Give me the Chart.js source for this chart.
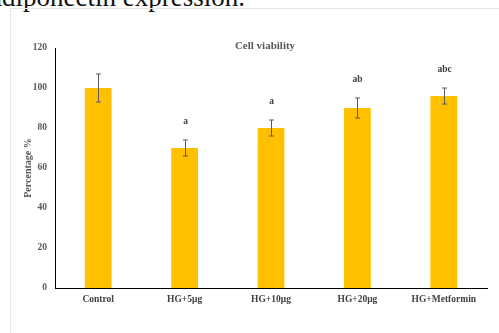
<!DOCTYPE html>
<html>
<head>
<meta charset="utf-8">
<script src="https://cdn.jsdelivr.net/npm/chart.js@4/dist/chart.umd.min.js"></script>
<style>
  html, body { margin: 0; padding: 0; background: #fff; overflow: hidden; }
  #wrap { position: relative; width: 499px; height: 333px; overflow: hidden; }
  #frame {
    position: absolute; left: 10px; top: 8px; width: 700px; height: 500px;
    border-left: 1px solid #e6e6e6; border-top: 1px solid #e6e6e6;
  }
  #caption {
    position: absolute; left: -10px; top: -15.6px; white-space: nowrap;
    font: 27px/27px "Liberation Serif", "Times New Roman", serif; color: #111;
  }
  canvas { position: absolute; left: 0; top: 0; }
</style>
</head>
<body>
<div id="wrap">
  <div id="caption">adiponectin expression.</div>
  <div id="frame"></div>
  <canvas id="c" width="499" height="333"></canvas>
</div>
<script>
// Cell viability (%) per treatment group, mean ± SD
const categories = ["Control", "HG+5μg", "HG+10μg", "HG+20μg", "HG+Metformin"];
const viability = [100, 70, 80, 90, 96];
const viabilitySD = [7, 4, 4, 5, 4];
const significance = ["", "a", "a", "ab", "abc"];
const yTicks = [0, 20, 40, 60, 80, 100, 120];

const serif = '"Liberation Serif", "Times New Roman", serif';

// Error bars with caps, plus significance letters above each bar
const errorBarPlugin = {
  id: 'errorBars',
  afterDatasetsDraw(chart) {
    const ctx = chart.ctx;
    const xs = chart.scales.x, ys = chart.scales.y;
    ctx.save();
    ctx.strokeStyle = '#5a5a5a';
    ctx.lineWidth = 1;
    categories.forEach((c, i) => {
      const x = Math.round(xs.getPixelForValue(i)) + 0.5;
      const yTop = ys.getPixelForValue(viability[i] + viabilitySD[i]);
      const yBot = ys.getPixelForValue(viability[i] - viabilitySD[i]);
      ctx.beginPath();
      ctx.moveTo(x, yTop); ctx.lineTo(x, yBot);
      ctx.moveTo(x - 2.5, yTop); ctx.lineTo(x + 2.5, yTop);
      ctx.moveTo(x - 2.5, yBot); ctx.lineTo(x + 2.5, yBot);
      ctx.stroke();
      if (significance[i]) {
        ctx.fillStyle = '#404040';
        ctx.font = 'bold 9.5px ' + serif;
        ctx.textAlign = 'center';
        ctx.textBaseline = 'middle';
        ctx.fillText(significance[i], x, yTop - 18.5);
      }
    });
    // chart heading
    ctx.fillStyle = '#595959';
    ctx.font = 'bold 11px ' + serif;
    ctx.textAlign = 'center';
    ctx.textBaseline = 'middle';
    ctx.fillText('Cell viability', 265, 46);
    ctx.restore();
  }
};

new Chart(document.getElementById('c'), {
  type: 'bar',
  data: {
    labels: categories,
    datasets: [{
      data: viability,
      backgroundColor: '#FFC000',
      borderWidth: 0,
      categoryPercentage: 1,
      barPercentage: 0.31
    }]
  },
  options: {
    responsive: false,
    animation: false,
    devicePixelRatio: 1,
    layout: { padding: { top: 48, right: 12, left: 0, bottom: 0 } },
    plugins: { legend: { display: false }, tooltip: { enabled: false }, title: { display: false } },
    scales: {
      x: {
        grid: { display: false, drawTicks: false },
        border: { display: true, color: '#000', width: 1 },
        ticks: { color: '#404040', font: { family: serif, size: 9.5, weight: 'bold' }, padding: 6, maxRotation: 0, autoSkip: false },
        afterFit(s) { s.height = 45; }
      },
      y: {
        min: 0, max: 120,
        grid: { display: false, drawTicks: false },
        border: { display: true, color: '#000', width: 1 },
        afterBuildTicks(s) { s.ticks = yTicks.map(v => ({ value: v })); },
        ticks: { color: '#595959', font: { family: serif, size: 9.5, weight: 'bold' }, padding: 8 },
        title: {
          display: true, text: 'Percentage %', color: '#595959',
          font: { family: serif, size: 10, weight: 'bold' },
          padding: { top: 22, bottom: 0 }
        },
        afterFit(s) { s.width = 55; }
      }
    }
  },
  plugins: [errorBarPlugin]
});
</script>
</body>
</html>
